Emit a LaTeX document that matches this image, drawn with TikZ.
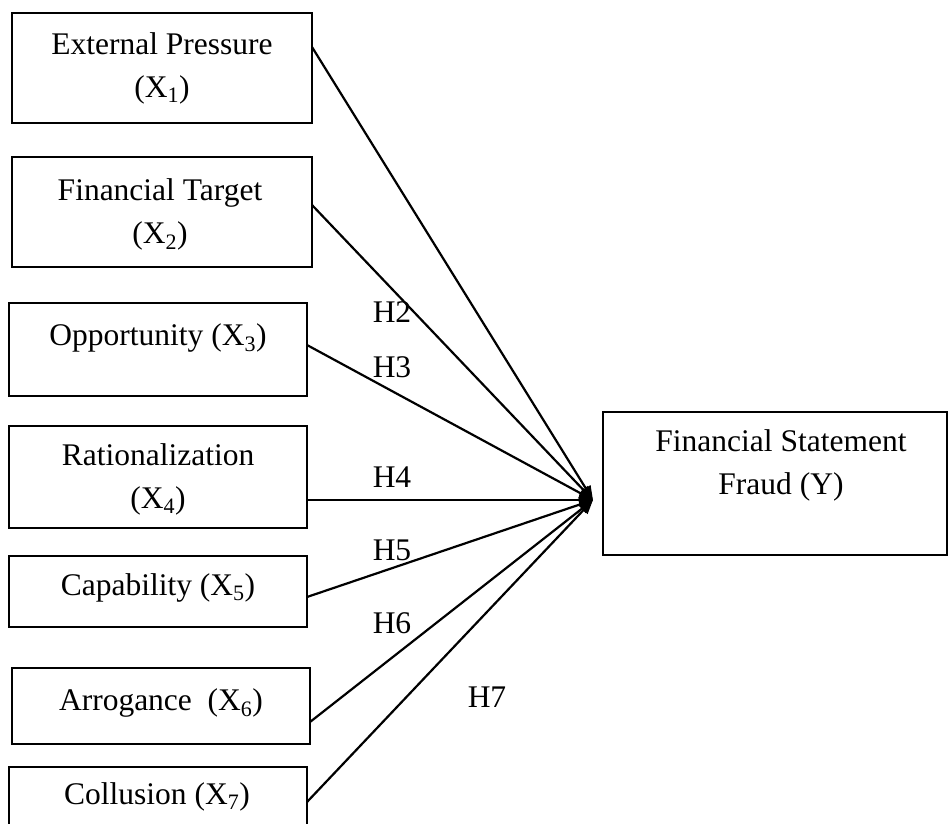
\documentclass[tikz,border=0pt]{standalone}
\usepackage{fontspec}
\setmainfont{Liberation Serif}
\usetikzlibrary{arrows.meta,calc}
\begin{document}
\begin{tikzpicture}[x=1pt,y=-1pt,
  box/.style={draw, line width=2pt, inner sep=0pt, outer sep=0pt},
  lbl/.style={font=\fontsize{31.5}{43}\selectfont, anchor=base, align=center, inner sep=0pt},
  conn/.style={line width=2.2pt, -{Triangle[length=14pt,width=11pt]}}]
\useasboundingbox (0,0) rectangle (948,823);
\clip (0,0) rectangle (948,823);
% boxes
\node[box, minimum width=300pt, minimum height=110pt] (b1) at (162,68) {};
\node[box, minimum width=300pt, minimum height=110pt] (b2) at (162,212) {};
\node[box, minimum width=298pt, minimum height=93pt] (b3) at (158,349.5) {};
\node[box, minimum width=298pt, minimum height=102pt] (b4) at (158,477) {};
\node[box, minimum width=298pt, minimum height=71pt] (b5) at (158,591.5) {};
\node[box, minimum width=298pt, minimum height=76pt] (b6) at (161,706) {};
\node[box, minimum width=298pt, minimum height=83pt] (b7) at (158,808.5) {};
\node[box, minimum width=344pt, minimum height=143pt] (y) at (775,483.5) {};
% texts (multi-line nodes: base = last line)
\node[lbl] (t1) at (162,97) {External Pressure\\(X\textsubscript{1})};
\node[lbl] (t2) at (160,243) {Financial Target\\(X\textsubscript{2})};
\node[lbl] (t3) at (158,345) {Opportunity (X\textsubscript{3})};
\node[lbl] (t4) at (158,508) {Rationalization\\(X\textsubscript{4})};
\node[lbl] (t5) at (158,595) {Capability (X\textsubscript{5})};
\node[lbl] (t6) at (161,710) {Arrogance~ (X\textsubscript{6})};
\node[lbl] (t7) at (157,804) {Collusion (X\textsubscript{7})};
\node[lbl] (ty) at (781,494) {Financial Statement\\Fraud (Y)};
% hypothesis labels
\node[lbl] (h2) at (392,322) {H2};
\node[lbl] (h3) at (392,377) {H3};
\node[lbl] (h4) at (392,487) {H4};
\node[lbl] (h5) at (392,560) {H5};
\node[lbl] (h6) at (392,633) {H6};
\node[lbl] (h7) at (487,707) {H7};
% connectors
\coordinate (tip) at (593,500);
\draw[conn] ($(b1.north east)+(0,34)$) -- (tip);
\draw[conn] ($(b2.north east)+(0,48)$) -- (tip);
\draw[conn] ($(b3.north east)+(0,42)$) -- (tip);
\draw[conn] ($(b4.north east)+(0,74)$) -- (tip);
\draw[conn] ($(b5.north east)+(0,41)$) -- (tip);
\draw[conn] ($(b6.north east)+(0,54)$) -- (tip);
\draw[conn] ($(b7.north east)+(0,35)$) -- (tip);
\end{tikzpicture}
\end{document}
